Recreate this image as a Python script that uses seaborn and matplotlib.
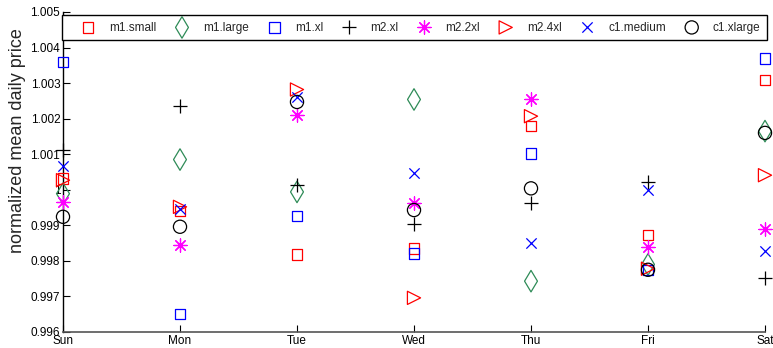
import matplotlib
matplotlib.use("Agg")
import matplotlib.pyplot as plt
import seaborn as sns
import pandas as pd

days = ["Sun", "Mon", "Tue", "Wed", "Thu", "Fri", "Sat"]
series_names = ["m1.small", "m1.large", "m1.xl", "m2.xl", "m2.2xl", "m2.4xl", "c1.medium", "c1.xlarge"]

m1_small = [1.00032, 0.99941, 0.99818, 0.99835, 1.00179, 0.99872, 1.00308]
m1_large = [0.99989, 1.00085, 0.99994, 1.00254, 0.99743, 0.99790, 1.00165]
m1_xl = [1.00359, 0.99650, 0.99926, 0.99821, 1.00102, 0.99775, 1.00369]
m2_xl = [1.00111, 1.00235, 1.00013, 0.99903, 0.99964, 1.00022, 0.99751]
m2_2xl = [0.99965, 0.99844, 1.00210, 0.99963, 1.00254, 0.99840, 0.99889]
m2_4xl = [1.00027, 0.99952, 1.00282, 0.99696, 1.00207, 0.99778, 1.00041]
c1_medium = [1.00066, 0.99945, 1.00261, 1.00046, 0.99851, 0.99999, 0.99828]
c1_xlarge = [0.99924, 0.99896, 1.00247, 0.99943, 1.00004, 0.99775, 1.00160]

values = [m1_small, m1_large, m1_xl, m2_xl, m2_2xl, m2_4xl, c1_medium, c1_xlarge]
yticks = [0.996, 0.997, 0.998, 0.999, 1.000, 1.001, 1.002, 1.003, 1.004, 1.005]

colors = ["#ff0000", "#2e8b57", "#0000ff", "#000000", "#ff00ff", "#ff0000", "#0000ff", "#000000"]
markers = ["s", "d", "s", "+", (8, 2, 0), ">", "x", "o"]
sizes = [55, 120, 55, 90, 90, 90, 55, 90]
filled = [True, True, True, False, False, True, False, True]

sns.set_theme(style="white")
plt.rcParams["font.family"] = ["Liberation Sans", "DejaVu Sans"]

fig = plt.figure(figsize=(7.73, 3.48), dpi=100)
ax = fig.add_axes([63 / 773, 16 / 348, 702 / 773, 320 / 348])

for name, vals, c, m, s, f in zip(series_names, values, colors, markers, sizes, filled):
    df = pd.DataFrame({"x": list(range(len(days))), "y": vals})
    if f:
        sns.scatterplot(data=df, x="x", y="y", ax=ax, marker=m, s=s,
                        facecolors="none", edgecolor=c, linewidth=0.9,
                        label=name, clip_on=False, zorder=3)
    else:
        sns.scatterplot(data=df, x="x", y="y", ax=ax, marker=m, s=s,
                        color=c, linewidth=0.9, label=name, clip_on=False, zorder=3)

ax.set_xlim(0, 6)
ax.set_ylim(0.996, 1.005)
ax.set_xticks(range(len(days)))
ax.set_xticklabels(days)
ax.set_yticks(yticks)
ax.set_yticklabels(["%g" % v for v in yticks])
ax.set_xlabel("")
ax.set_ylabel("normalized mean daily price", fontsize=13)
ax.yaxis.set_label_coords(-0.052, 0.597)

ax.tick_params(axis="both", which="both", direction="in", length=5, width=0.8,
               labelsize=8.5, pad=2, colors="black")
ax.tick_params(axis="x", top=False, bottom=True)
ax.tick_params(axis="y", left=True, right=False)

for sp in ["top", "right"]:
    ax.spines[sp].set_visible(False)
ax.spines["left"].set_color("black")
ax.spines["left"].set_linewidth(1.0)
ax.spines["bottom"].set_color("#555555")
ax.spines["bottom"].set_linewidth(1.2)

leg = ax.legend(loc="center", bbox_to_anchor=(-0.0014, 0.9125, 1.004, 0.078),
                mode="expand", ncol=8, borderaxespad=0, fontsize=8.5,
                frameon=True, fancybox=False, framealpha=1, edgecolor="black",
                borderpad=0.55, handlelength=3.3, handletextpad=0.13,
                columnspacing=1.0)
leg.get_frame().set_linewidth(1.0)

fig.savefig("out.png", dpi=100)
